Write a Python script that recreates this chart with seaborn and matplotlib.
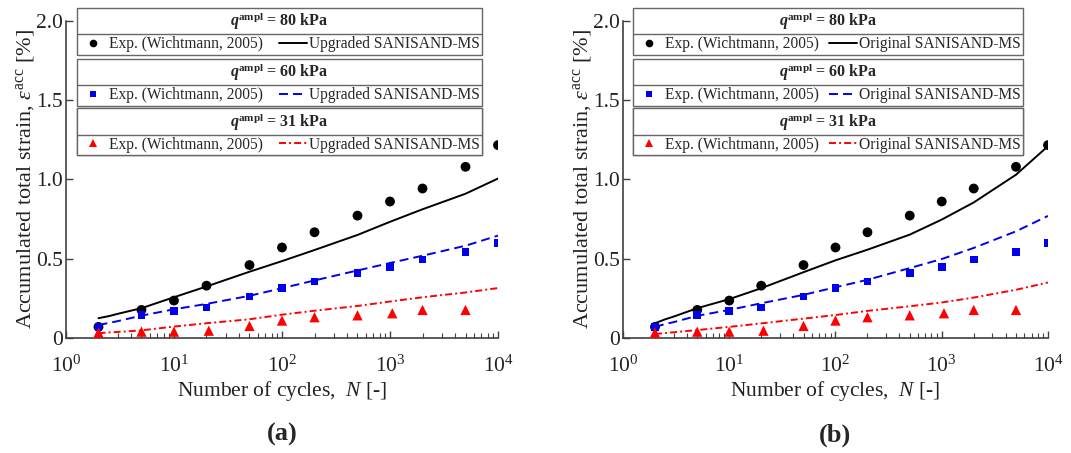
import matplotlib
matplotlib.use("Agg")
import matplotlib.pyplot as plt
from matplotlib.lines import Line2D
from matplotlib.ticker import LogLocator, FixedLocator, NullLocator
import numpy as np
import pandas as pd
import seaborn as sns

# experimental data (Wichtmann, 2005)
n_exp = [2, 5, 10, 20, 50, 100, 200, 500, 1000, 2000, 5000, 10000]
exp_80 = [0.07, 0.177, 0.236, 0.33, 0.46, 0.571, 0.667, 0.772, 0.861, 0.943, 1.08, 1.217]
exp_60 = [0.07, 0.146, 0.171, 0.192, 0.262, 0.314, 0.356, 0.411, 0.447, 0.496, 0.544, 0.599]
n_exp31 = [2, 5, 10, 21, 50, 100, 200, 500, 1050, 2000, 5000]
exp_31 = [0.034, 0.04, 0.04, 0.046, 0.076, 0.11, 0.131, 0.143, 0.156, 0.177, 0.177]

# model curves
n_mod = [2, 2.5, 3, 5, 10, 20, 50, 100, 200, 500, 1000, 2000, 5000, 10000]
upg_80 = [0.125, 0.138, 0.152, 0.188, 0.257, 0.325, 0.418, 0.485, 0.555, 0.65, 0.733, 0.812, 0.91, 1.006]
upg_60 = [0.082, 0.095, 0.106, 0.141, 0.181, 0.215, 0.266, 0.314, 0.363, 0.426, 0.473, 0.519, 0.582, 0.646]
upg_31 = [0.03, 0.035, 0.038, 0.048, 0.072, 0.093, 0.118, 0.147, 0.172, 0.202, 0.23, 0.257, 0.287, 0.315]
org_80 = [0.093, 0.118, 0.135, 0.188, 0.245, 0.314, 0.415, 0.49, 0.557, 0.652, 0.747, 0.855, 1.03, 1.21]
org_60 = [0.07, 0.088, 0.1, 0.14, 0.177, 0.219, 0.272, 0.32, 0.367, 0.441, 0.498, 0.568, 0.673, 0.77]
org_31 = [0.025, 0.031, 0.036, 0.05, 0.07, 0.092, 0.122, 0.145, 0.171, 0.2, 0.224, 0.255, 0.304, 0.35]

amplitudes = ["80", "60", "31"]
colors = ["black", "#0000ee", "#ff0000"]
markers = ["o", "s", "^"]
msizes = [50, 30, 55]
dashes = ["-", (0, (4.6, 2.6)), (0, (3.6, 1.6, 1.0, 1.6))]

sns.set_theme(style="ticks")
plt.rcParams["font.family"] = ["Liberation Serif", "DejaVu Serif"]
plt.rcParams["mathtext.fontset"] = "custom"
plt.rcParams["mathtext.rm"] = "Liberation Serif"
plt.rcParams["mathtext.it"] = "Liberation Serif:italic"
plt.rcParams["mathtext.bf"] = "Liberation Serif:bold"
plt.rcParams["mathtext.bfit"] = "Liberation Serif:italic:bold"

axc = "#404040"
fig = plt.figure(figsize=(10.71, 4.53), dpi=100)
ax_a = fig.add_axes([0.0616, 0.2539, 0.4034, 0.6998])
ax_b = fig.add_axes([0.5817, 0.2539, 0.3968, 0.6998])

panels = [
    (ax_a, "Upgraded SANISAND-MS", [upg_80, upg_60, upg_31], "(a)", 0.0255, 0.938),
    (ax_b, "Original SANISAND-MS", [org_80, org_60, org_31], "(b)", 0.0235, 0.918),
]
exp_sets = [(n_exp, exp_80), (n_exp, exp_60), (n_exp31, exp_31)]
tops = [1.041, 0.880, 0.724]

legends = []
for ax, model_name, models, tag, lx, lw in panels:
    for i in range(3):
        mdf = pd.DataFrame({"N": n_mod, "eps": models[i]})
        sns.lineplot(data=mdf, x="N", y="eps", ax=ax, color=colors[i],
                     linestyle=dashes[i], linewidth=1.4, legend=False)
        edf = pd.DataFrame({"N": exp_sets[i][0], "eps": exp_sets[i][1]})
        sns.scatterplot(data=edf, x="N", y="eps", ax=ax, color=colors[i],
                        marker=markers[i], s=msizes[i], edgecolor="none",
                        legend=False, zorder=3)

    ax.set_xscale("log")
    ax.set_xlim(1, 1e4)
    ax.set_ylim(0, 2.0)
    ax.xaxis.set_major_locator(LogLocator(base=10, numticks=10))
    ax.xaxis.set_minor_locator(LogLocator(base=10, subs=np.arange(2, 10), numticks=20))
    ax.yaxis.set_major_locator(FixedLocator([0, 0.5, 1.0, 1.5, 2.0]))
    ax.yaxis.set_minor_locator(NullLocator())
    ax.set_yticklabels(["0", "0.5", "1.0", "1.5", "2.0"])
    ax.tick_params(axis="both", which="major", direction="in", length=5,
                   width=1, color=axc, labelsize=15.5, labelcolor="#222222")
    ax.tick_params(axis="x", which="major", pad=13)
    ax.tick_params(axis="y", which="major", pad=2)
    ax.tick_params(axis="x", which="minor", direction="in", length=3.5,
                   width=0.8, color=axc)
    for s in ["top", "right"]:
        ax.spines[s].set_visible(False)
    for s in ["left", "bottom"]:
        ax.spines[s].set_color(axc)
        ax.spines[s].set_linewidth(1.2)
    ax.set_xlabel(r"Number of cycles,  $N$ [-]", fontsize=15.5, color="#222222", labelpad=1)
    ax.set_ylabel(r"Accumulated total strain, $\varepsilon^{\mathrm{acc}}$ [%]",
                  fontsize=16, color="#222222", labelpad=-0.5)

    for i in range(3):
        h_exp = Line2D([], [], color=colors[i], marker=markers[i], linestyle="none",
                       markersize=5.5 if i != 1 else 4.5, markeredgewidth=0)
        h_mod = Line2D([], [], color=colors[i], linestyle=dashes[i], linewidth=1.4)
        title = r"$\mathbfit{q}^{\mathbf{ampl}}$ = " + amplitudes[i] + " kPa"
        leg = ax.legend([h_exp, h_mod], ["Exp. (Wichtmann, 2005)", model_name],
                        ncol=2, loc="upper left", bbox_to_anchor=(lx, tops[i], lw, 0),
                        mode="expand", borderaxespad=0, title=title,
                        title_fontproperties={"weight": "bold", "size": 11.5},
                        fontsize=11.2, frameon=True, fancybox=False,
                        edgecolor="#666666", framealpha=1, handlelength=1.75,
                        handletextpad=0.15, columnspacing=0.6, borderpad=0.15,
                        labelspacing=0.25)
        leg.get_frame().set_linewidth(1.0)
        ax.add_artist(leg)
        legends.append(leg)

    bb = ax.get_position()
    fig.text((bb.x0 + bb.x1) / 2, 0.04, tag, ha="center", va="center",
             fontsize=19, fontweight="bold")

# separator line between legend title and entries
fig.canvas.draw()
r = fig.canvas.get_renderer()
inv = fig.transFigure.inverted()
for leg in legends:
    fb = leg.get_frame().get_window_extent(r)
    tb = leg.get_title().get_window_extent(r)
    y = tb.y0 - 2
    (x0, y0), (x1, _) = inv.transform([(fb.x0, y), (fb.x1, y)])
    fig.add_artist(Line2D([x0, x1], [y0, y0], color="#666666", linewidth=1.0))

fig.savefig("out.png", dpi=100)
